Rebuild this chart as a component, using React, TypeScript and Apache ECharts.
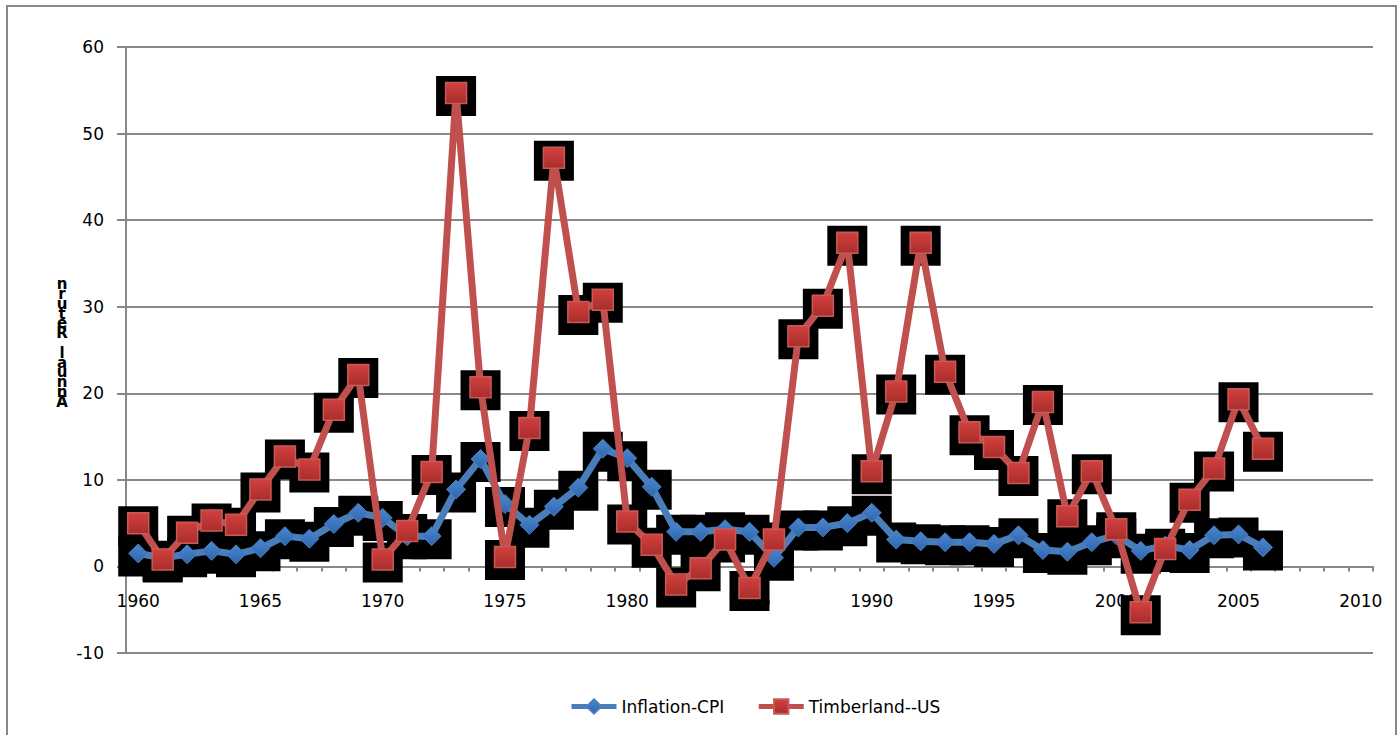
import React, { useEffect, useRef } from "react";
import * as echarts from "echarts";

const years: string[] = [];
for (let y = 1960; y <= 2010; y++) years.push(String(y));

// 1960 .. 2006
const inflationCPI = [
  1.5, 1.0, 1.4, 1.8, 1.4, 2.1, 3.5, 3.2, 4.9, 6.2,
  5.6, 3.5, 3.5, 8.9, 12.4, 7.2, 4.8, 6.9, 9.1, 13.6,
  12.5, 9.2, 4.0, 4.0, 4.3, 4.0, 1.0, 4.5, 4.5, 5.0,
  6.2, 3.1, 2.9, 2.8, 2.8, 2.6, 3.6, 1.9, 1.7, 2.8,
  3.6, 1.8, 2.4, 1.9, 3.6, 3.7, 2.2,
];

const timberlandUS = [
  5.0, 0.8, 3.9, 5.3, 4.8, 8.9, 12.7, 11.2, 18.1, 22.1,
  0.8, 4.1, 10.9, 54.7, 20.7, 1.1, 16.0, 47.2, 29.4, 30.8,
  5.2, 2.5, -2.1, -0.2, 3.1, -2.5, 3.1, 26.6, 30.1, 37.4,
  11.0, 20.2, 37.4, 22.5, 15.5, 13.8, 10.8, 19.0, 5.8, 11.0,
  4.3, -5.3, 2.0, 7.7, 11.3, 19.3, 13.6,
];

const yTicks = { min: -10, max: 60, interval: 10 };
const seriesNames = ["Inflation-CPI", "Timberland--US"];

const FONT = "DejaVu Sans";
const GRAY = "#888888";

const GRID_TOP = 47;
const GRID_BOTTOM = 82;
const H = 735;

export default function App() {
  const ref = useRef<HTMLDivElement>(null);

  useEffect(() => {
    if (!ref.current) return;
    const chart = echarts.init(ref.current, undefined, { renderer: "svg" });

    // distance from grid bottom up to the zero line
    const plotH = H - GRID_TOP - GRID_BOTTOM;
    const zeroOffset = (plotH * (0 - yTicks.min)) / (yTicks.max - yTicks.min);

    const halo = (data: number[]) => ({
      type: "scatter",
      name: "",
      data,
      symbol: "rect",
      symbolSize: 40,
      symbolOffset: [0, 3],
      itemStyle: { color: "#000000", opacity: 1 },
      silent: true,
      z: 1,
    });

    chart.setOption({
      animation: false,
      backgroundColor: "#ffffff",
      grid: { left: 126, right: 27, top: GRID_TOP, bottom: GRID_BOTTOM, containLabel: false },
      xAxis: {
        type: "category",
        data: years,
        boundaryGap: true,
        position: "bottom",
        offset: -zeroOffset,
        axisLine: { onZero: false, lineStyle: { color: GRAY, width: 2 } },
        axisTick: { show: true, interval: 0, length: 5, lineStyle: { color: GRAY, width: 2 } },
        axisLabel: { interval: 4, margin: 26, fontSize: 17, color: "#000", fontFamily: FONT },
        splitLine: { show: false },
      },
      yAxis: {
        type: "value",
        min: yTicks.min,
        max: yTicks.max,
        interval: yTicks.interval,
        axisLine: { show: true, lineStyle: { color: GRAY, width: 2 } },
        axisTick: { show: true, length: 9, lineStyle: { color: GRAY, width: 2 } },
        axisLabel: { margin: 22, fontSize: 17, color: "#000", fontFamily: FONT },
        splitLine: { show: true, lineStyle: { color: GRAY, width: 2 } },
      },
      legend: {
        data: seriesNames,
        left: 564,
        top: 693,
        itemWidth: 45,
        itemHeight: 18,
        itemGap: 32,
        lineStyle: { width: 5 },
        textStyle: { fontSize: 17, fontFamily: FONT, color: "#000" },
      },
      graphic: [
        {
          type: "rect",
          shape: { x: 7, y: 6, width: 1389, height: 740 },
          style: { fill: "none", stroke: GRAY, lineWidth: 2 },
          silent: true,
          z: 0,
        },
        {
          type: "text",
          x: 62,
          y: 343,
          style: {
            text: "n\nr\nu\nt\ne\nR\n \nl\na\nu\nn\nn\nA",
            fontSize: 15,
            fontWeight: "bold",
            fontFamily: FONT,
            lineHeight: 9.8,
            fill: "#000",
            align: "center",
            verticalAlign: "middle",
          },
          silent: true,
        },
      ],
      series: [
        halo(inflationCPI),
        halo(timberlandUS),
        {
          type: "line",
          name: seriesNames[0],
          data: inflationCPI,
          symbol: "diamond",
          symbolSize: 19,
          showAllSymbol: true,
          lineStyle: { color: "#4A7EBB", width: 7 },
          itemStyle: {
            color: new echarts.graphic.LinearGradient(0, 0, 0, 1, [
              { offset: 0, color: "#4A86D0" },
              { offset: 1, color: "#2E66AE" },
            ]),
            borderColor: "#4A7EBB",
            borderWidth: 1,
          },
          z: 2,
        },
        {
          type: "line",
          name: seriesNames[1],
          data: timberlandUS,
          symbol: "rect",
          symbolSize: 21,
          showAllSymbol: true,
          lineStyle: { color: "#C0504D", width: 7 },
          itemStyle: {
            color: new echarts.graphic.LinearGradient(0, 0, 0, 1, [
              { offset: 0, color: "#D2403E" },
              { offset: 1, color: "#A82E2C" },
            ]),
            borderColor: "#C85A57",
            borderWidth: 1.5,
          },
          z: 3,
        },
      ],
    });

    return () => chart.dispose();
  }, []);

  return (
    <div
      ref={ref}
      style={{ position: "absolute", left: 0, top: 0, width: 1400, height: 735 }}
    />
  );
}
